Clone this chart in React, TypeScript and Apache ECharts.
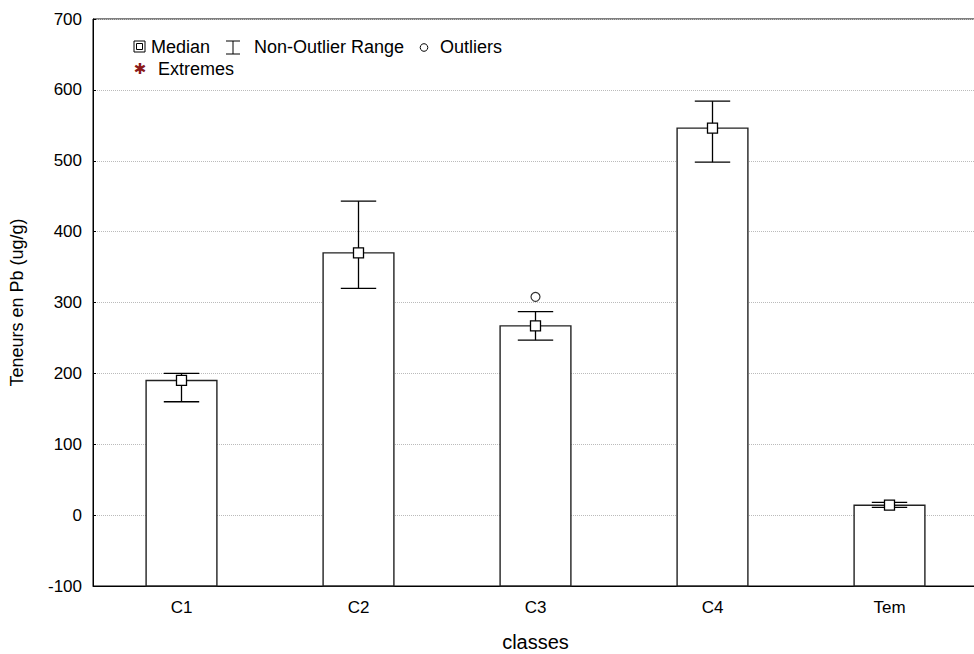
import React, { useEffect, useRef } from "react";
import * as echarts from "echarts";

const categories = ["C1", "C2", "C3", "C4", "Tem"];
const medians = [190, 370, 267, 546, 14];
const whiskerLow = [160, 320, 247, 498, 11];
const whiskerHigh = [200, 443, 287, 584, 18];
const outliers: [number, number][] = [[2, 308]];
const yMin = -100;
const yMax = 700;
const yInterval = 100;

const FONT = "'Liberation Sans', Arial, sans-serif";

export default function App() {
  const ref = useRef<HTMLDivElement>(null);
  useEffect(() => {
    if (!ref.current) return;
    const chart = echarts.init(ref.current, undefined, { renderer: "svg" });
    const barData = categories.map((_, i) => [i, medians[i]]);
    const whiskerData = categories.map((_, i) => [i, whiskerLow[i], whiskerHigh[i], medians[i]]);
    chart.setOption({
      animation: false,
      backgroundColor: "#fff",
      textStyle: { fontFamily: FONT },
      grid: {
        left: 93,
        top: 19,
        width: 885,
        height: 567,
        outerBoundsMode: "none",
        containLabel: false,
        show: true,
        borderColor: "#000",
        borderWidth: 1,
        backgroundColor: "transparent",
      },
      xAxis: {
        type: "category",
        data: categories,
        name: "classes",
        nameLocation: "middle",
        nameGap: 46,
        nameTextStyle: { fontSize: 20, color: "#000", fontFamily: FONT },
        axisLine: { show: true, onZero: false, lineStyle: { color: "#000", width: 1 } },
        axisTick: { show: true, inside: true, length: 3, alignWithLabel: true, lineStyle: { color: "#000" } },
        axisLabel: { color: "#000", fontSize: 17, margin: 13, fontFamily: FONT },
        splitLine: { show: false },
      },
      yAxis: {
        type: "value",
        min: yMin,
        max: yMax,
        interval: yInterval,
        name: "Teneurs en Pb (ug/g)",
        nameLocation: "middle",
        nameGap: 67,
        nameRotate: 90,
        nameTextStyle: { fontSize: 18, color: "#000", fontFamily: FONT },
        axisLine: { show: true, lineStyle: { color: "#000", width: 1 } },
        axisTick: { show: true, inside: true, length: 3, lineStyle: { color: "#000" } },
        axisLabel: { color: "#000", fontSize: 17, margin: 11, fontFamily: FONT },
        splitLine: { show: true, lineStyle: { color: "#bbb", type: [1, 1], width: 1 } },
      },
      series: [
        {
          type: "custom",
          name: "bars",
          data: barData,
          renderItem: (params: any, api: any) => {
            const i = api.value(0);
            const v = api.value(1);
            const top = api.coord([i, v]);
            const bot = api.coord([i, yMin]);
            const w = api.size([1, 0])[0] * 0.4;
            return {
              type: "rect",
              shape: { x: top[0] - w / 2, y: top[1], width: w, height: bot[1] - top[1] },
              style: { fill: "#fff", stroke: "#222", lineWidth: 1.4 },
            };
          },
        },
        {
          type: "custom",
          name: "whiskers",
          data: whiskerData,
          renderItem: (params: any, api: any) => {
            const i = api.value(0);
            const lo = api.coord([i, api.value(1)]);
            const hi = api.coord([i, api.value(2)]);
            const med = api.coord([i, api.value(3)]);
            const cw = api.size([1, 0])[0] * 0.2;
            const x = lo[0];
            const ls = { stroke: "#000", lineWidth: 1.3 };
            return {
              type: "group",
              children: [
                { type: "line", shape: { x1: x, y1: lo[1], x2: x, y2: hi[1] }, style: ls },
                { type: "line", shape: { x1: x - cw / 2, y1: lo[1], x2: x + cw / 2, y2: lo[1] }, style: ls },
                { type: "line", shape: { x1: x - cw / 2, y1: hi[1], x2: x + cw / 2, y2: hi[1] }, style: ls },
                {
                  type: "rect",
                  shape: { x: x - 5, y: med[1] - 5, width: 10, height: 10 },
                  style: { fill: "#fff", stroke: "#000", lineWidth: 1.3 },
                },
              ],
            };
          },
        },
        {
          type: "scatter",
          name: "Outliers",
          data: outliers,
          symbol: "circle",
          symbolSize: 9,
          itemStyle: { color: "#fff", borderColor: "#000", borderWidth: 1.2 },
        },
      ],
      graphic: [
        { type: "rect", shape: { x: 134, y: 41, width: 11, height: 11 }, style: { fill: "#fff", stroke: "#000", lineWidth: 1 } },
        { type: "rect", shape: { x: 136.5, y: 43.5, width: 6, height: 6 }, style: { fill: "#fff", stroke: "#000", lineWidth: 1 } },
        { type: "text", x: 151, y: 47, style: { text: "Median", font: `18px ${FONT}`, fill: "#000", verticalAlign: "middle" } },
        { type: "line", shape: { x1: 226, y1: 41, x2: 240, y2: 41 }, style: { stroke: "#000", lineWidth: 1 } },
        { type: "line", shape: { x1: 226, y1: 54, x2: 240, y2: 54 }, style: { stroke: "#000", lineWidth: 1 } },
        { type: "line", shape: { x1: 233, y1: 41, x2: 233, y2: 54 }, style: { stroke: "#000", lineWidth: 1 } },
        { type: "text", x: 254, y: 47, style: { text: "Non-Outlier Range", font: `18px ${FONT}`, fill: "#000", verticalAlign: "middle" } },
        { type: "circle", shape: { cx: 424, cy: 47.5, r: 3.8 }, style: { fill: "#fff", stroke: "#000", lineWidth: 1 } },
        { type: "text", x: 440, y: 47, style: { text: "Outliers", font: `18px ${FONT}`, fill: "#000", verticalAlign: "middle" } },
        { type: "text", x: 140, y: 69, style: { text: "✱", font: `15px 'DejaVu Sans', sans-serif`, fill: "#8b1a1a", verticalAlign: "middle", align: "center" } },
        { type: "text", x: 158, y: 69, style: { text: "Extremes", font: `18px ${FONT}`, fill: "#000", verticalAlign: "middle" } },
      ],
    });
    return () => chart.dispose();
  }, []);
  return <div ref={ref} style={{ width: 974, height: 654, position: "absolute", left: 0, top: 0 }} />;
}
